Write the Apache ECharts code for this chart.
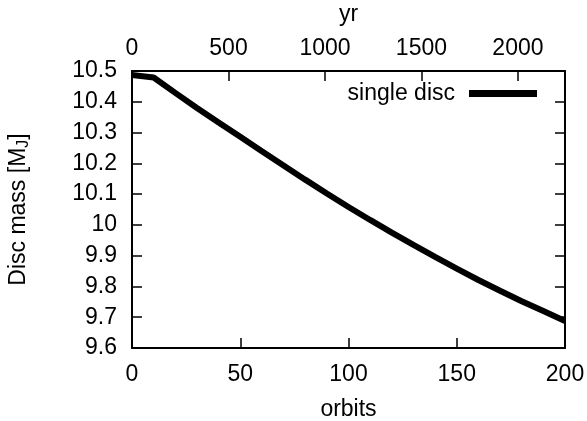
<!DOCTYPE html>
<html>
<head>
<meta charset="utf-8">
<script src="https://cdn.jsdelivr.net/npm/echarts@6/dist/echarts.min.js"></script>
<style>
  html, body { margin: 0; padding: 0; background: #fff; }
  #chart { width: 587px; height: 421px; }
</style>
</head>
<body>
<div id="chart"></div>
<script>
// orbits (bottom axis) and disc mass in Jupiter masses
const orbits = [0, 10, 20, 30, 40, 50, 60, 70, 80, 90, 100, 110, 120, 130, 140, 150, 160, 170, 180, 190, 200];
const discMass = [10.487, 10.479, 10.429, 10.380, 10.333, 10.286, 10.239, 10.193, 10.147, 10.102, 10.058,
  10.016, 9.975, 9.935, 9.896, 9.858, 9.821, 9.786, 9.752, 9.720, 9.688];
const seriesName = "single disc";
// top axis: time in years for the same range
const yrMax = 2244;

const font = "'Liberation Sans', Arial, Helvetica, sans-serif";
const black = "#000";
const fs = 23;

const chart = echarts.init(document.getElementById("chart"));

const lineStyle = { color: black, width: 2 };
const tickStyle = { color: black, width: 1.5 };

const option = {
  backgroundColor: "#fff",
  animation: false,
  textStyle: { fontFamily: font, color: black },
  grid: { left: 132, right: 22, top: 71, bottom: 73, outerBoundsMode: "none" },
  legend: {
    data: [seriesName],
    right: 50,
    top: 82,
    padding: 0,
    align: "right",
    icon: "rect",
    itemWidth: 68,
    itemHeight: 7,
    textStyle: { fontFamily: font, fontSize: fs, color: black, padding: [0, 9, 0, 0] },
  },
  xAxis: [
    {
      type: "value",
      position: "bottom",
      min: 0,
      max: 200,
      interval: 50,
      name: "orbits",
      nameLocation: "middle",
      nameGap: 50,
      nameTextStyle: { fontFamily: font, fontSize: fs, color: black },
      axisLine: { onZero: false, lineStyle: lineStyle },
      axisTick: { inside: true, length: 10, lineStyle: tickStyle },
      axisLabel: { margin: 15, fontFamily: font, fontSize: fs, color: black },
      splitLine: { show: false },
    },
    {
      type: "value",
      position: "top",
      min: 0,
      max: yrMax,
      interval: 500,
      name: "yr",
      nameLocation: "middle",
      nameGap: 45,
      nameTextStyle: { fontFamily: font, fontSize: fs, color: black },
      axisLine: { onZero: false, lineStyle: lineStyle },
      axisTick: { inside: true, length: 10, lineStyle: tickStyle },
      axisLabel: {
        margin: 11,
        fontFamily: font,
        fontSize: fs,
        color: black,
        showMaxLabel: false,
        formatter: (v) => String(v),
      },
      splitLine: { show: false },
    },
  ],
  yAxis: [
    {
      type: "value",
      position: "left",
      min: 9.6,
      max: 10.5,
      interval: 0.1,
      name: "Disc mass [M{sub|J}]",
      nameLocation: "middle",
      nameGap: 100,
      nameTextStyle: {
        fontFamily: font,
        fontSize: fs,
        color: black,
        rich: {
          sub: { fontFamily: font, fontSize: 16, color: black, verticalAlign: "bottom", padding: [10, 0, 0, 0] },
        },
      },
      axisLine: { onZero: false, lineStyle: lineStyle },
      axisTick: { inside: true, length: 10, lineStyle: tickStyle },
      axisLabel: { margin: 15, fontFamily: font, fontSize: fs, color: black },
      splitLine: { show: false },
    },
    {
      type: "value",
      position: "right",
      min: 9.6,
      max: 10.5,
      interval: 0.1,
      axisLine: { onZero: false, lineStyle: lineStyle },
      axisTick: { inside: true, length: 10, lineStyle: tickStyle },
      axisLabel: { show: false },
      splitLine: { show: false },
    },
  ],
  series: [
    {
      name: seriesName,
      type: "line",
      xAxisIndex: 0,
      yAxisIndex: 0,
      data: orbits.map((o, i) => [o, discMass[i]]),
      showSymbol: false,
      symbol: "none",
      smooth: false,
      itemStyle: { color: black },
      lineStyle: { color: black, width: 6 },
    },
  ],
};

chart.setOption(option);
</script>
</body>
</html>
